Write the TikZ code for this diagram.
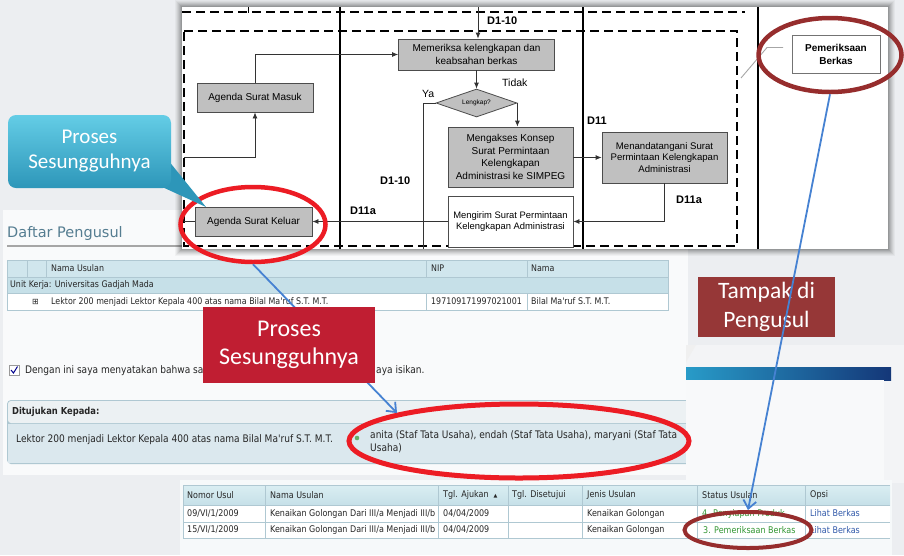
\documentclass[tikz,border=0pt]{standalone}
\usepackage{fontspec}
\setmainfont{Liberation Sans}
\newfontfamily\callfont{Carlito}
\newfontfamily\webfont{DejaVu Sans}[FakeStretch=0.87]
\newfontfamily\webtitle{DejaVu Sans}
\usetikzlibrary{arrows.meta,shapes.geometric,calc}

\definecolor{bgA}{RGB}{236,238,241}
\definecolor{procgray}{RGB}{192,192,192}
\definecolor{hotred}{RGB}{236,28,36}
\definecolor{darkred}{RGB}{150,45,45}
\definecolor{linkblue}{RGB}{70,130,210}
\definecolor{tealA}{RGB}{100,205,230}
\definecolor{tealB}{RGB}{45,150,185}
\definecolor{crimson}{RGB}{192,30,50}
\definecolor{maroon}{RGB}{150,55,55}
\definecolor{hdrblue}{RGB}{208,230,237}
\definecolor{hdrtop}{RGB}{218,238,242}
\definecolor{rowblue}{RGB}{198,224,232}
\definecolor{gridline}{RGB}{175,200,210}
\definecolor{titleteal}{RGB}{85,125,145}
\definecolor{okgreen}{RGB}{50,150,50}
\definecolor{hrefblue}{RGB}{50,90,170}
\definecolor{panelbg}{RGB}{249,250,251}
\definecolor{panelhead}{RGB}{236,241,243}
\definecolor{panelbody}{RGB}{219,232,238}
\definecolor{stripbg}{RGB}{243,244,246}
\definecolor{cardbg}{RGB}{248,249,250}
\definecolor{tablebg}{RGB}{246,249,250}
\definecolor{barA}{RGB}{40,155,200}
\definecolor{barB}{RGB}{20,55,120}

\begin{document}
\begin{tikzpicture}[x=1pt,y=-1pt,
  procbox/.style={draw=black!70, fill=procgray, line width=0.8pt, align=center,
    font=\fontsize{10pt}{12.5pt}\selectfont, inner sep=2pt},
  flow/.style={draw=black!80, line width=0.8pt, -{Latex[length=6pt,width=5pt]}},
  plainflow/.style={draw=black!80, line width=0.8pt},
  flowlabel/.style={font=\bfseries\fontsize{11pt}{13pt}\selectfont, anchor=west, inner sep=0pt},
  lanedash/.style={line width=2.6pt, dash pattern=on 9pt off 5pt},
  laneline/.style={line width=1.3pt},
  ring/.style={ellipse, draw, inner sep=0pt},
  pointer/.style={draw=linkblue, line width=1.8pt, -{Straight Barb[length=8pt,width=13pt]}},
  listtxt/.style={font=\webfont\fontsize{9.1pt}{11pt}\selectfont, anchor=west, inner sep=0pt, text=black!85},
  webtxt/.style={font=\webfont\fontsize{10.4pt}{12.5pt}\selectfont, anchor=west, inner sep=0pt, text=black!85},
  smalltxt/.style={font=\webfont\fontsize{9.2pt}{11pt}\selectfont, anchor=west, inner sep=0pt, text=black!85},
  calltxt/.style={font=\callfont\fontsize{21pt}{25pt}\selectfont, text=white, align=center, inner sep=0pt},
]
\useasboundingbox (0,0) rectangle (904,555);
\fill[bgA] (0,0) rectangle (904,555);

% ---------- web form: list of proposers ----------
\fill[panelbg] (3,210) rectangle (688,475);
\node[font=\webtitle\fontsize{14.5pt}{16pt}\selectfont, text=titleteal, anchor=west, inner sep=0pt] (title) at (7,233) {Daftar Pengusul};
\draw[gray!70, line width=1.5pt] (7,246) -- (190,246);

\fill[hdrblue] (7,260) rectangle (668,277);
\fill[rowblue] (7,277) rectangle (668,293);
\fill[white] (7,293) rectangle (668,310);
\draw[gridline] (7,260) rectangle (668,310);
\draw[gridline] (7,277) -- (668,277) (7,293) -- (668,293);
\draw[gridline] (27,260) -- (27,277) (46,260) -- (46,277)
                (426,260) -- (426,277) (527,260) -- (527,277)
                (426,293) -- (426,310) (527,293) -- (527,310);
\node[listtxt] (hName) at (51,268.5) {Nama Usulan};
\node[listtxt] (hNip) at (431,268.5) {NIP};
\node[listtxt] (hNama) at (531,268.5) {Nama};
\node[listtxt] (unit) at (10,285) {Unit Kerja: Universitas Gadjah Mada};
\node[listtxt, font=\webtitle\fontsize{8pt}{9pt}\selectfont] (expand) at (32,301.5) {⊞};
\node[listtxt] (usul) at (51,301.5) {Lektor 200 menjadi Lektor Kepala 400 atas nama Bilal Ma'ruf S.T. M.T.};
\node[listtxt] (nip) at (431,301.5) {197109171997021001};
\node[listtxt] (nama) at (531,301.5) {Bilal Ma'ruf S.T. M.T.};

% declaration checkbox
\draw[gray!80, fill=white] (9,365) rectangle (19,375);
\draw[blue!55!black, line width=1pt] (11,370) -- (13.5,373) -- (17.5,366.5);
\node[webtxt] (decl) at (25,371) {Dengan ini saya menyatakan bahwa say};
\node[webtxt] (declend) at (376,371) {aya isikan.};

% addressed-to panel
\fill[gridline, rounded corners=4pt] (7,400) rectangle (700,464);
\fill[panelhead, rounded corners=3pt] (8,401) rectangle (700,423);
\fill[panelbody] (8,424) rectangle (700,463);
\node[webtxt, font=\webfont\bfseries\fontsize{9.6pt}{11pt}\selectfont] (tuju) at (12,411.5) {Ditujukan Kepada:};
\node[webtxt] (tujuL) at (16,440) {Lektor 200 menjadi Lektor Kepala 400 atas nama Bilal Ma'ruf S.T. M.T.};
\fill[okgreen!75] (357,438) circle (2.3);
\node[webtxt, align=left, anchor=north west, font=\webfont\fontsize{10.4pt}{13pt}\selectfont] (staf) at (370,430.5) {anita (Staf Tata Usaha), endah (Staf Tata Usaha), maryani (Staf Tata\\Usaha)};

% ---------- second screen: header strip ----------
\fill[stripbg] (686,345) rectangle (904,483);
\fill[gray!12] (686,345) -- (696,345) -- (686,362) -- cycle;
\shade[left color=barA, right color=barB] (686,367) rectangle (891,380);
\fill[cardbg] (686,380) rectangle (884,483);

% ---------- proposal status table ----------
\fill[tablebg] (180,480) rectangle (892,555);
\shade[top color=hdrtop, bottom color=rowblue] (183,485) rectangle (890,505);
\fill[white] (183,505) rectangle (890,538);
\draw[gridline] (183,485) -- (890,485) (183,505) -- (890,505) (183,522) -- (890,522) (183,538) -- (890,538);
\foreach \cx in {183,265,438,508,582,697,805}
  \draw[gridline] (\cx,485) -- (\cx,538);
\node[smalltxt] (cNo) at (187,495) {Nomor Usul};
\node[smalltxt] (cNm) at (270,495) {Nama Usulan};
\node[smalltxt] (cTa) at (443,495) {Tgl. Ajukan\hspace{5pt}{\webtitle\fontsize{5pt}{5pt}\selectfont ▲}};
\node[smalltxt] (cTd) at (512,495) {Tgl. Disetujui};
\node[smalltxt] (cJe) at (587,495) {Jenis Usulan};
\node[smalltxt] (cSt) at (702,495) {Status Usulan};
\node[smalltxt] (cOp) at (810,495) {Opsi};
\node[smalltxt] (r1a) at (187,513.5) {09/VI/1/2009};
\node[smalltxt] (r1b) at (270,513.5) {Kenaikan Golongan Dari III/a Menjadi III/b};
\node[smalltxt] (r1c) at (443,513.5) {04/04/2009};
\node[smalltxt] (r1d) at (587,513.5) {Kenaikan Golongan};
\node[smalltxt, text=okgreen] (r1e) at (702,513.5) {4. Penyiapan Produk};
\node[smalltxt, text=hrefblue] (r1f) at (810,513.5) {Lihat Berkas};
\node[smalltxt] (r2a) at (187,530) {15/VI/1/2009};
\node[smalltxt] (r2b) at (270,530) {Kenaikan Golongan Dari III/a Menjadi III/b};
\node[smalltxt] (r2c) at (443,530) {04/04/2009};
\node[smalltxt] (r2d) at (587,530) {Kenaikan Golongan};
\node[smalltxt, text=okgreen] (r2e) at (703,530) {3. Pemeriksaan Berkas};
\node[smalltxt, text=hrefblue] (r2f) at (810,530) {Lihat Berkas};

% ---------- flowchart excerpt ----------
\foreach \s/\o in {7/0.035,6/0.04,5/0.05,4/0.06,3/0.07,2/0.08,1/0.09}
  \fill[black, opacity=\o] (182-\s,7-\s) rectangle (888+\s,249+\s);
\fill[white] (182,7) rectangle (888,249);

\draw[lanedash] (182,12) -- (745,12);
\draw[line width=0.8pt] (248,7) -- (248,13);
\draw[lanedash] (184,31) -- (737,31) -- (737,246) -- (184,246) -- cycle;
\draw[laneline] (340,7) -- (340,249) (583,7) -- (583,249) (758,7) -- (758,249);

\node[procbox, minimum width=156pt, minimum height=31pt] (periksa) at (476.5,54.5) {Memeriksa kelengkapan dan\\keabsahan berkas};
\node[procbox, minimum width=116pt, minimum height=29pt] (masuk) at (255,97.5) {Agenda Surat Masuk};
\node[diamond, draw=black!70, fill=procgray, line width=0.8pt, aspect=2.9, inner sep=0pt,
      minimum width=81pt, minimum height=28pt, font=\fontsize{6.5pt}{7pt}\selectfont] (lengkap) at (476.5,103) {Lengkap?};
\node[procbox, minimum width=125pt, minimum height=60pt] (akses) at (510.5,157) {Mengakses Konsep\\Surat Permintaan\\Kelengkapan\\Administrasi ke SIMPEG};
\node[procbox, minimum width=125pt, minimum height=51pt, font=\fontsize{9.6pt}{11.2pt}\selectfont] (tanda) at (664.5,157.5) {Menandatangani Surat\\Permintaan Kelengkapan\\Administrasi};
\node[procbox, fill=white, minimum width=125pt, minimum height=51pt, font=\fontsize{9.4pt}{11.5pt}\selectfont] (kirim) at (510.5,221.5) {Mengirim Surat Permintaan\\Kelengkapan Administrasi};
\node[procbox, minimum width=117pt, minimum height=29pt] (keluar) at (253.5,221.5) {Agenda Surat Keluar};
\node[procbox, fill=white, draw=black!55, minimum width=88pt, minimum height=38pt,
      font=\bfseries\fontsize{10pt}{13pt}\selectfont] (berkas) at (836,54) {Pemeriksaan\\Berkas};

\coordinate (topin) at (478,7);
\coordinate (leftin) at (184,157);
\coordinate (leftout) at (184,221.5);
\coordinate (yaend) at (423,249);
\draw[flow] (topin) -- (topin |- periksa.north);
\draw[flow] (masuk.north) |- (periksa.west);
\draw[flow] (leftin) -| (masuk.south);
\draw[flow] (periksa.south) -- (lengkap.north);
\draw[flow] (lengkap.east) -- (lengkap.east |- akses.north);
\draw[plainflow] (lengkap.west) -| (yaend);
\draw[flow] (akses.east |- tanda.west) -- (tanda.west);
\draw[flow] (tanda.south) |- (kirim.east);
\draw[flow] (kirim.west) -- (keluar.east);
\draw[plainflow] (leftout) -- (keluar.west);
\draw[gray!70, line width=0.9pt] (741,78) -- (767,47.5) -- (783,47.5);

\node[flowlabel] (lD1) at (487,21) {D1-10};
\node[flowlabel, font=\fontsize{10.5pt}{12pt}\selectfont] (lTidak) at (502,82.5) {Tidak};
\node[flowlabel, font=\fontsize{10.5pt}{12pt}\selectfont] (lYa) at (422,94) {Ya};
\node[flowlabel] (lD11) at (587,121) {D11};
\node[flowlabel] (lD11a) at (676,200) {D11a};
\node[flowlabel] (lD11b) at (350,210.5) {D11a};
\node[flowlabel] (lD1b) at (380,181) {D1-10};

% ---------- highlight rings ----------
\node[ring, draw=hotred, line width=4.5pt, minimum width=145pt, minimum height=75pt] (ringA) at (253,224.5) {};
\node[ring, draw=darkred, line width=4.5pt, minimum width=143pt, minimum height=74pt] (ringB) at (830,55) {};

% ---------- teal callout ----------
\fill[tealB] (168,160) -- (206,207) -- (160,186) -- cycle;
\node[calltxt, rounded corners=8pt, top color=tealA, bottom color=tealB,
      minimum width=163pt, minimum height=73pt] (tealnote) at (89.5,151.5) {Proses\\Sesungguhnya};

% ---------- pointers and labels ----------
\node[ring, draw=hotred, line width=5pt, minimum width=340pt, minimum height=74pt] (ringC) at (519,441) {};
\draw[pointer] (ringA.south) -- (ringC.north west);
\node[calltxt, fill=crimson, font=\callfont\fontsize{24pt}{28pt}\selectfont,
      minimum width=172pt, minimum height=76pt] (rednote) at (289,345) {Proses\\Sesungguhnya};
\node[calltxt, fill=maroon, font=\callfont\fontsize{23.5pt}{29pt}\selectfont,
      minimum width=137pt, minimum height=60pt] (pengusul) at (766.5,307) {Tampak di\\Pengusul};
\node[ring, draw=darkred, line width=4pt, minimum width=127pt, minimum height=36pt] (ringD) at (748,530) {};
\draw[pointer] (ringB.south) -- (ringD.north);
\end{tikzpicture}
\end{document}
